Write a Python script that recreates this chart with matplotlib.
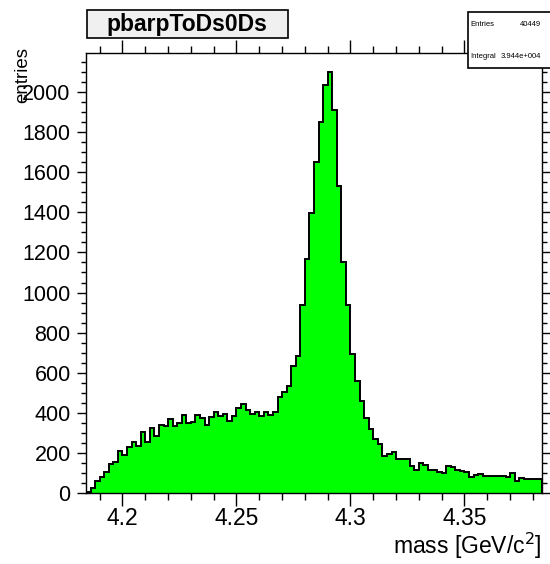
import numpy as np
import matplotlib
matplotlib.use("Agg")
import matplotlib.pyplot as plt
from matplotlib.patches import Rectangle
from matplotlib.ticker import MultipleLocator

plt.rcParams['font.family'] = ['Liberation Sans', 'DejaVu Sans']

# histogram: 100 bins of 0.002 GeV/c^2
x_low = 4.184
bin_width = 0.002
counts = [5, 23, 62, 82, 107, 145, 155, 212, 190, 228,
          255, 235, 302, 255, 322, 282, 340, 332, 370, 335,
          348, 387, 348, 355, 387, 372, 338, 377, 405, 385,
          395, 358, 385, 423, 442, 415, 393, 403, 383, 403,
          390, 403, 477, 503, 532, 632, 685, 940, 1168, 1395,
          1652, 1853, 2035, 2098, 1910, 1532, 1153, 940, 695, 557,
          457, 373, 318, 270, 245, 185, 195, 205, 172, 172,
          172, 135, 115, 150, 140, 115, 115, 107, 100, 135,
          130, 115, 110, 103, 80, 90, 97, 87, 87, 87,
          87, 87, 80, 98, 60, 75, 68, 68, 68, 68]

title = "pbarpToDs0Ds"
x_title = "mass [GeV/c$^{2}$]"
y_title = "entries"
stat_names = ["Entries", "Integral"]
stat_values = ["40449", "3.944e+004"]

edges = x_low + bin_width * np.arange(len(counts) + 1)

W, H = 550, 564


def fx(px):
    return px / W


def fy(py):
    return 1 - py / H


fig = plt.figure(figsize=(W / 100, H / 100), dpi=100)
ax = fig.add_axes([fx(86), fy(493), fx(542) - fx(86), fy(53) - fy(493)])

ax.stairs(counts, edges, fill=True, facecolor='#00ff00', edgecolor='none')
ax.stairs(counts, edges, color='black', linewidth=1.4)

ax.set_xlim(edges[0], edges[-1])
ax.set_ylim(0, 2195)

ax.xaxis.set_major_locator(MultipleLocator(0.05))
ax.xaxis.set_minor_locator(MultipleLocator(0.01))
ax.yaxis.set_major_locator(MultipleLocator(200))
ax.yaxis.set_minor_locator(MultipleLocator(50))
ax.xaxis.set_major_formatter(plt.FuncFormatter(lambda v, p: ('%g' % round(v, 3))))

ax.tick_params(which='both', direction='out', top=True, right=True, width=1.0)
ax.tick_params(axis='x', which='major', length=9.4, labelsize=16.5, pad=0.5)
ax.tick_params(axis='x', which='minor', length=4.8)
ax.tick_params(axis='y', which='major', length=6.5, labelsize=15.5, pad=4.5)
ax.tick_params(axis='y', which='minor', length=3.6)
for s in ax.spines.values():
    s.set_linewidth(1.0)

# axis titles
fig.text(fx(542), fy(561), x_title, ha='right', va='bottom', fontsize=16.5)
fig.text(fx(23), fy(47), y_title, rotation=90, ha='center', va='top', fontsize=13.5)

# title box
fig.patches.append(Rectangle((fx(87), fy(38)), fx(288) - fx(87), fy(10) - fy(38),
                             transform=fig.transFigure, facecolor='#f0f0f0',
                             edgecolor='black', linewidth=1.2))
fig.text(fx(187), fy(24), title, ha='center', va='center', fontsize=16.5,
         fontweight='bold')

# stats box
fig.patches.append(Rectangle((fx(468), fy(68)), fx(560) - fx(468), fy(12) - fy(68),
                             transform=fig.transFigure, facecolor='white',
                             edgecolor='black', linewidth=1.2, zorder=5))
for i, (name, val) in enumerate(zip(stat_names, stat_values)):
    yy = fy(24 + 33 * i)
    fig.text(fx(470), yy, name, ha='left', va='center', fontsize=5.5, zorder=6)
    fig.text(fx(541), yy, val, ha='right', va='center', fontsize=5.5, zorder=6)

fig.savefig("out.png", dpi=100)
